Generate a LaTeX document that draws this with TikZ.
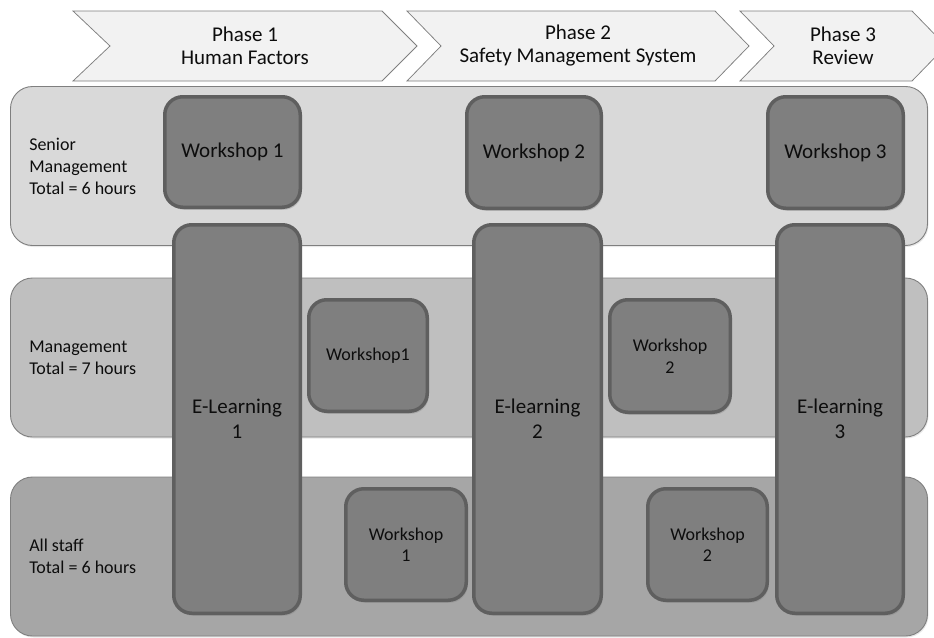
\documentclass[tikz,border=0pt]{standalone}
\usepackage{fontspec}
\setmainfont{Carlito}
\usetikzlibrary{shadows}
\definecolor{chevfill}{HTML}{F2F2F2}
\definecolor{chevline}{HTML}{7F7F7F}
\definecolor{bandline}{HTML}{7F7F7F}
\definecolor{rowa}{HTML}{D9D9D9}
\definecolor{rowb}{HTML}{BFBFBF}
\definecolor{rowc}{HTML}{A6A6A6}
\definecolor{blkfill}{HTML}{7F7F7F}
\definecolor{blkline}{HTML}{5F5F5F}
\definecolor{txt}{HTML}{0D0D0D}
\begin{document}
\begin{tikzpicture}[x=1pt,y=-1pt,text=txt,
    chev/.style={draw=chevline,fill=chevfill,line width=0.75pt,line join=miter},
    band/.style={draw=bandline,line width=0.9pt,rounded corners=22pt,inner sep=0,
      minimum width=917pt,minimum height=159pt,
      drop shadow={opacity=0.18,shadow xshift=1pt,shadow yshift=-1.5pt}},
    blk/.style={draw=blkline,fill=blkfill,line width=3.5pt,rounded corners=18pt,
      align=center,inner sep=0,
      drop shadow={opacity=0.35,shadow xshift=1.5pt,shadow yshift=-2.5pt}},
    big/.style={font=\fontsize{21}{25}\selectfont},
    small/.style={font=\fontsize{18}{21.5}\selectfont},
    lbl/.style={anchor=west,align=left,inner sep=0,font=\fontsize{18}{22}\selectfont},
    ph/.style={align=center,inner sep=0,font=\fontsize{21}{23}\selectfont}]
  \useasboundingbox (0,0) rectangle (934,637);
  % phases
  \draw[chev] (73,11) -- (382,11) -- (417,46) -- (382,81) -- (73,81) -- (110,46) -- cycle;
  \draw[chev] (407,11) -- (715,11) -- (749,46) -- (715,81) -- (407,81) -- (441,46) -- cycle;
  \draw[chev] (740,11) -- (912,11) -- (946,46) -- (912,81) -- (740,81) -- (774,46) -- cycle;
  \node[ph] (ph1) at (245,46) {Phase 1\\Human Factors};
  \node[ph] (ph2) at (578,46) {Phase 2\\Safety Management System};
  \node[ph] (ph3) at (843,46) {Phase 3\\Review};
  % groups
  \node[band,fill=rowa] (senior) at (469,166) {};
  \node[band,fill=rowb] (mgmt) at (469,357.5) {};
  \node[band,fill=rowc] (staff) at (469,556.5) {};
  \node[lbl] (lsenior) at ([xshift=19pt]senior.west) {Senior\\Management\\Total = 6 hours};
  \node[lbl] (lmgmt) at ([xshift=19pt]mgmt.west) {Management\\Total = 7 hours};
  \node[lbl] (lstaff) at ([xshift=19pt]staff.west) {All staff\\Total = 6 hours};
  % workshops
  \node[blk,big,minimum width=135.5pt,minimum height=110.5pt] (wsa1) at (232.5,152) {Workshop 1};
  \node[blk,big,minimum width=134.5pt,minimum height=111.5pt] (wsa2) at (534,152.5) {Workshop 2};
  \node[blk,big,minimum width=135.5pt,minimum height=111.5pt] (wsa3) at (835.5,152.5) {Workshop 3};
  \node[blk,small,minimum width=118.5pt,minimum height=111.5pt] (wsb1) at (368,355.5) {Workshop1};
  \node[blk,small,minimum width=120.5pt,minimum height=112.5pt] (wsb2) at (670,356) {Workshop\\2};
  \node[blk,small,minimum width=120.5pt,minimum height=111.5pt] (wsc1) at (406,544.5) {Workshop\\1};
  \node[blk,small,minimum width=119.5pt,minimum height=111.5pt] (wsc2) at (707.5,544.5) {Workshop\\2};
  % e-learning
  \node[blk,big,minimum width=126.5pt,minimum height=388.5pt] (el1) at (237,419) {E-Learning\\1};
  \node[blk,big,minimum width=127.5pt,minimum height=388.5pt] (el2) at (537.5,419) {E-learning\\2};
  \node[blk,big,minimum width=126.5pt,minimum height=388.5pt] (el3) at (840,419) {E-learning\\3};
\end{tikzpicture}
\end{document}
